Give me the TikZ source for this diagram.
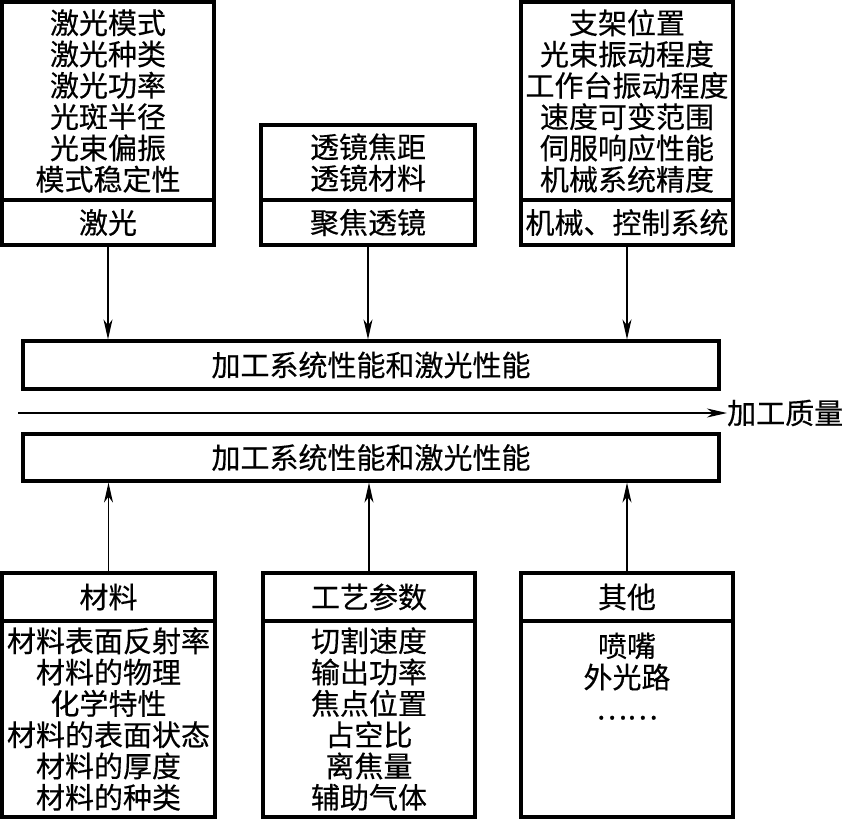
\documentclass[tikz,border=0pt]{standalone}
\usepackage{fontspec}
\newfontfamily\cjk[FakeBold=0.4]{Noto Sans CJK SC}
\usetikzlibrary{arrows.meta}
\begin{document}
\begin{tikzpicture}[x=1pt,y=-1pt,
  box/.style={draw, line width=3.2pt, inner sep=0pt, align=center,
    font=\cjk\fontsize{29}{31.3}\selectfont},
  txt/.style={inner sep=0pt, align=center, font=\cjk\fontsize{29}{31.3}\selectfont},
  arr/.style={-{Stealth[length=20pt,width=9pt,inset=6pt]}, line width=1.2pt}]
\useasboundingbox (0,0) rectangle (846,820);
% top row
\node[box, minimum width=212pt, minimum height=198pt] (tlu) at (108,101)
  {激光模式\\激光种类\\激光功率\\光斑半径\\光束偏振\\模式稳定性};
\node[box, minimum width=212pt, minimum height=45pt] (tlb) at (108,222.5) {激光};
\node[box, minimum width=214pt, minimum height=75pt] (tmu) at (368,162.5)
  {透镜焦距\\透镜材料};
\node[box, minimum width=214pt, minimum height=45pt] (tmb) at (368,222.5) {聚焦透镜};
\node[box, minimum width=212pt, minimum height=198pt] (tru) at (627,101)
  {支架位置\\光束振动程度\\工作台振动程度\\速度可变范围\\伺服响应性能\\机械系统精度};
\node[box, minimum width=212pt, minimum height=45pt] (trb) at (627,222.5) {机械、控制系统};
% middle
\node[box, minimum width=696pt, minimum height=48pt] (mid1) at (371,365) {加工系统性能和激光性能};
\node[box, minimum width=696pt, minimum height=47pt] (mid2) at (371,457.5) {加工系统性能和激光性能};
\coordinate (qs) at (18,413);
\node[txt, anchor=west] (qual) at (727,413) {加工质量};
\draw[arr] (qs) -- (qual.west);
% bottom row
\node[box, minimum width=213pt, minimum height=48pt] (blh) at (108.5,597) {材料};
\node[box, minimum width=213pt, minimum height=196pt] (blb) at (108.5,719)
  {材料表面反射率\\材料的物理\\化学特性\\材料的表面状态\\材料的厚度\\材料的种类};
\node[box, minimum width=212pt, minimum height=48pt] (bmh) at (369,597) {工艺参数};
\node[box, minimum width=212pt, minimum height=196pt] (bmb) at (369,719)
  {切割速度\\输出功率\\焦点位置\\占空比\\离焦量\\辅助气体};
\node[box, minimum width=212pt, minimum height=48pt] (brh) at (627,597) {其他};
\node[box, minimum width=212pt, minimum height=196pt] (brb) at (627,719) {};
\node[txt, anchor=north] (brt) at ([yshift=-13pt]brb.north) {喷嘴\\外光路\\……};
% connectors
\draw[arr] (tlb.south) -- (tlb.south |- mid1.north);
\draw[arr] (tmb.south) -- (tmb.south |- mid1.north);
\draw[arr] (trb.south) -- (trb.south |- mid1.north);
\draw[arr] (blh.north) -- (blh.north |- mid2.south);
\draw[arr] (bmh.north) -- (bmh.north |- mid2.south);
\draw[arr] (brh.north) -- (brh.north |- mid2.south);
\end{tikzpicture}
\end{document}
